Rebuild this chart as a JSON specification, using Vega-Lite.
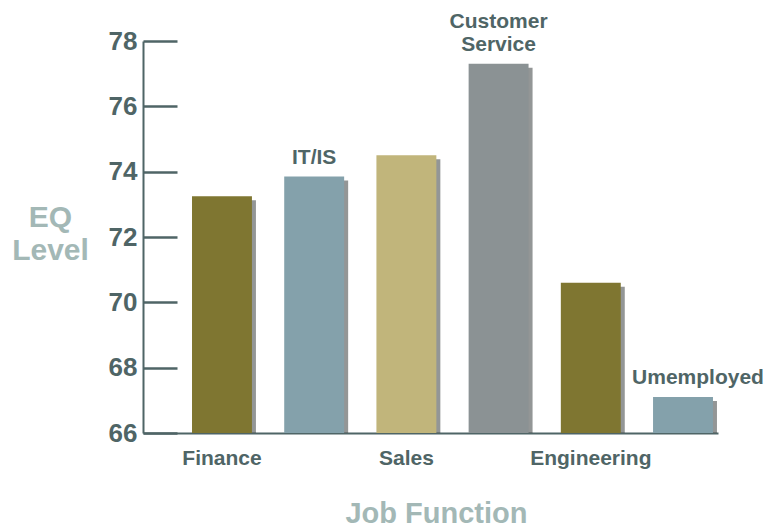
{
  "$schema": "https://vega.github.io/schema/vega-lite/v6.json",
  "width": 575,
  "height": 392,
  "autosize": {"type": "none"},
  "padding": {"left": 143, "top": 41, "right": 50, "bottom": 96},
  "background": "white",
  "config": {"view": {"stroke": null}, "font": "Liberation Sans"},
  "data": {"values": [
    {"job": "Finance", "eq": 73.25, "label": "Finance", "pos": "below", "col": "olive"},
    {"job": "IT/IS", "eq": 73.85, "label": "IT/IS", "pos": "above", "col": "blue"},
    {"job": "Sales", "eq": 74.5, "label": "Sales", "pos": "below", "col": "sand"},
    {"job": "Customer Service", "eq": 77.3, "label": ["Customer", "Service"], "pos": "above2", "col": "grey"},
    {"job": "Engineering", "eq": 70.6, "label": "Engineering", "pos": "below", "col": "olive"},
    {"job": "Umemployed", "eq": 67.1, "label": "Umemployed", "pos": "aboveR", "col": "blue"}
  ]},
  "encoding": {
    "x": {"field": "job", "type": "nominal", "sort": null,
      "scale": {"paddingInner": 0.35, "paddingOuter": 0.293, "align": 0.907},
      "axis": {"labels": false, "ticks": false, "domainColor": "#4f6566", "domainWidth": 2,
        "title": "Job Function", "titleFontSize": 29, "titleFontWeight": "bold", "titleColor": "#a3b8b6", "titlePadding": 66, "titleBaseline": "top", "titleX": 293}},
    "y": {"field": "eq", "type": "quantitative",
      "scale": {"domain": [66, 78], "nice": false, "zero": false},
      "axis": {"values": [66, 68, 70, 72, 74, 76, 78], "grid": false,
        "labelFontSize": 26, "labelFontWeight": "bold", "labelColor": "#4f6566", "labelPadding": 40,
        "domainColor": "#4f6566", "domainWidth": 2, "tickColor": "#4f6566", "tickWidth": 2.5, "tickSize": -34,
        "title": ["EQ", "Level"], "titleAngle": 0, "titleAlign": "center", "titleBaseline": "top",
        "titleX": -93, "titleY": 161, "titleFontSize": 30, "titleFontWeight": "bold", "titleColor": "#a3b8b6", "titleLineHeight": 33}}
  },
  "layer": [
    {"mark": {"type": "bar", "color": "#3a3f3f", "opacity": 0.55, "xOffset": 4, "yOffset": 4},
     "encoding": {"y2": {"datum": 66}}},
    {"mark": {"type": "bar"},
     "encoding": {"y2": {"datum": 66},
       "color": {"field": "col", "type": "nominal", "legend": null,
         "scale": {"domain": ["olive", "blue", "sand", "grey"], "range": ["#7f7631", "#84a1ab", "#c1b57b", "#8b9294"]}}}},
    {"transform": [{"filter": "datum.pos === 'below'"}],
     "mark": {"type": "text", "fontSize": 21, "fontWeight": "bold", "color": "#4f6566", "baseline": "top", "dy": 15},
     "encoding": {"y": {"datum": 66}, "text": {"field": "label"}}},
    {"transform": [{"filter": "datum.pos === 'above'"}],
     "mark": {"type": "text", "fontSize": 21, "fontWeight": "bold", "color": "#4f6566", "baseline": "bottom", "dy": -9},
     "encoding": {"text": {"field": "label"}}},
    {"transform": [{"filter": "datum.pos === 'aboveR'"}],
     "mark": {"type": "text", "fontSize": 21, "fontWeight": "bold", "color": "#4f6566", "baseline": "bottom", "dy": -9, "dx": 15},
     "encoding": {"text": {"field": "label"}}},
    {"transform": [{"filter": "datum.pos === 'above2'"}],
     "mark": {"type": "text", "fontSize": 21, "fontWeight": "bold", "color": "#4f6566", "baseline": "bottom", "dy": -32, "lineHeight": 23},
     "encoding": {"text": {"field": "label"}}}
  ]
}
